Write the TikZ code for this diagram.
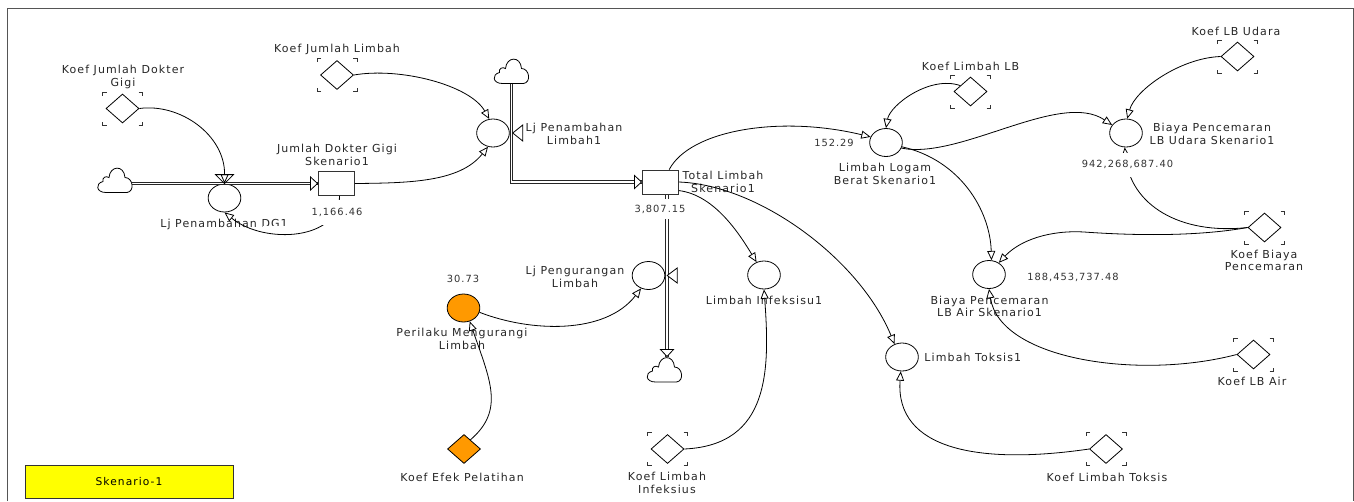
\documentclass[tikz,border=0pt]{standalone}
\usepackage{fontspec}
\usepackage{xcolor}
\usepackage{tikz}
\usetikzlibrary{arrows.meta,shapes.geometric,positioning}
\setmainfont[LetterSpace=10]{DejaVu Sans}
\definecolor{oranye}{HTML}{FF9900}
\definecolor{bingkai}{HTML}{555555}
\definecolor{kuning}{HTML}{FFFF00}

\begin{document}
\begin{tikzpicture}[x=0.75pt, y=-0.75pt, line width=0.6pt, font=\fontsize{8.25}{9.4}\selectfont]
        % Stijlen
        \tikzstyle{teks} = [align=center, inner sep=0pt, text=black!85]
        \tikzstyle{nilai} = [align=center, inner sep=1pt, fill=white, text=black!80, font=\fontsize{7.4}{9}\selectfont]
        \tikzstyle{laju} = [ellipse, draw=black, fill=white, inner sep=0pt, minimum width=24.5pt, minimum height=21pt]
        \tikzstyle{stok} = [rectangle, draw=black!80, fill=white, inner sep=0pt, minimum width=27pt, minimum height=18pt]
        \tikzstyle{koef} = [diamond, draw=black, fill=white, inner sep=0pt, minimum width=24.75pt, minimum height=21.75pt]
        \tikzstyle{awan} = [rectangle, inner sep=0pt, minimum width=25.5pt, minimum height=18.75pt]
        \tikzstyle{link} = [->, >={Triangle[open, length=7pt, width=6pt]}]
        \tikzstyle{aliran} = [line width=2.3pt, black!85, postaction={draw=white, line width=1pt}]
        \tikzstyle{ujung} = [->, >={Triangle[fill=white, length=6pt, width=11pt]}]
        \tikzstyle{katup} = [draw=black, fill=white]
        \tikzset{
            awanbentuk/.pic={
                \draw [fill=white] (-9,12) .. controls (-19,12) and (-20,3) .. (-12,1)
                    .. controls (-13,-3) and (-9,-5) .. (-6,-3)
                    .. controls (-5,-15) and (9,-16) .. (10,-3)
                    .. controls (18,-3) and (20,11) .. (12,12) -- cycle;
            },
            sikubentuk/.pic={
                \foreach \sx/\sy in {1/1,1/-1,-1/1,-1/-1}
                    \draw [black!80] ({\sx*16},{\sy*16.5}) -- ({\sx*20},{\sy*16.5}) -- ({\sx*20},{\sy*13});
            }
        }

        \useasboundingbox (0,0) rectangle (1354,501);
        \draw [bingkai] (7,501) -- (7,8) -- (1353,8) -- (1353,501);

        % Knopen plaatsen
        \node (kotakSkenario) [rectangle, draw=black!80, fill=kuning, minimum width=156pt, minimum height=24.75pt, inner sep=0pt, font=\fontsize{8}{9}\selectfont] at (129,481.5) {Skenario-1};

        \node (awanKiri) [awan] at (115,180.5) {};
        \node (awanAtas) [awan] at (511.5,71.5) {};
        \node (awanBawah) [awan] at (664.5,370) {};
        \node (stokDokter) [stok] at (336.5,183.5) {};
        \node (stokLimbah) [stok] at (660.5,182) {};
        \node (ljDokter) [laju] at (224.5,198) {};
        \node (ljLimbah) [laju] at (493,133) {};
        \node (ljKurang) [laju] at (648.5,275.5) {};
        \node (limbahLogam) [laju] at (886,142.5) {};
        \node (limbahInfeksi) [laju] at (764,275) {};
        \node (limbahToksis) [laju] at (902,357) {};
        \node (biayaUdara) [laju] at (1126,133) {};
        \node (biayaAir) [laju] at (989,274.5) {};
        \node (perilaku) [laju, fill=oranye] at (463.5,308) {};
        \node (koefDokter) [koef] at (122.5,108.5) {};
        \node (koefJumlah) [koef] at (337,75) {};
        \node (koefLB) [koef] at (970.5,91.5) {};
        \node (koefUdara) [koef] at (1237.5,56.5) {};
        \node (koefBiaya) [koef] at (1264.5,227.5) {};
        \node (koefAir) [koef] at (1253.5,354.5) {};
        \node (koefInfeksi) [koef] at (667.5,449) {};
        \node (koefToksis) [koef] at (1106,449) {};
        \node (koefPelatihan) [koef, fill=oranye] at (464,449) {};

        \foreach \k in {koefDokter,koefJumlah,koefLB,koefUdara,koefBiaya,koefAir,koefInfeksi,koefToksis}
            \pic at (\k) {sikubentuk};

        % Teksten
        \node (teksKoefDokter) [teks] at (123,77) {Koef Jumlah Dokter\\Gigi};
        \node (teksKoefJumlah) [teks] at (337,49) {Koef Jumlah Limbah};
        \node (teksStokDokter) [teks] at (337,155) {Jumlah Dokter Gigi\\Skenario1};
        \node (teksLjDokter) [teks] at (224,224) {Lj Penambahan DG1};
        \node (teksLjLimbah) [teks] at (574,134) {Lj Penambahan\\Limbah1};
        \node (teksStokLimbah) [teks] at (723,182) {Total Limbah\\Skenario1};
        \node (teksLjKurang) [teks] at (575,277) {Lj Pengurangan\\Limbah};
        \node (teksPerilaku) [teks] at (462,339) {Perilaku Mengurangi\\Limbah};
        \node (teksPelatihan) [teks] at (462,477) {Koef Efek Pelatihan};
        \node (teksKoefInfeksi) [teks] at (667,483) {Koef Limbah\\Infeksius};
        \node (teksInfeksi) [teks] at (764,300) {Limbah Infeksisu1};
        \node (teksToksis) [teks, right=4pt of limbahToksis] {Limbah Toksis1};
        \node (teksKoefToksis) [teks] at (1107,477) {Koef Limbah Toksis};
        \node (teksLogam) [teks] at (885,174) {Limbah Logam\\Berat Skenario1};
        \node (teksKoefLB) [teks] at (970.5,66) {Koef Limbah LB};
        \node (teksUdara) [teks] at (1212,134) {Biaya Pencemaran\\LB Udara Skenario1};
        \node (teksKoefUdara) [teks] at (1236,31) {Koef LB Udara};
        \node (teksKoefBiaya) [teks] at (1264,260.5) {Koef Biaya\\Pencemaran};
        \node (teksAir) [teks] at (989.5,306.5) {Biaya Pencemaran\\LB Air Skenario1};
        \node (teksKoefAir) [teks] at (1252,381) {Koef LB Air};
        \fill [white] (263,225.5) rectangle (292,232);

        % Aliran
        \coordinate (keluarLimbah) at (667,195);
        \draw [aliran] (awanKiri.east |- stokDokter.west) -- (stokDokter.west);
        \draw [aliran] (awanAtas.south) |- (stokLimbah.west);
        \draw [aliran] (keluarLimbah) -- (keluarLimbah |- awanBawah.north);
        \draw [ujung] ([xshift=-6pt]stokDokter.west) -- (stokDokter.west);
        \draw [ujung] ([xshift=-6pt]stokLimbah.west) -- (stokLimbah.west);
        \draw [ujung] ([yshift=6pt]keluarLimbah |- awanBawah.north) -- (keluarLimbah |- awanBawah.north);
        \pic at (awanKiri) {awanbentuk};
        \pic at (awanAtas) {awanbentuk};
        \pic at (awanBawah) {awanbentuk};
        \draw [katup] (ljDokter.north) -- ++(-9,-9) -- ++(18,0) -- cycle;
        \draw [katup] (ljLimbah.east) ++(3,0) -- ++(10,-8) -- ++(0,16) -- cycle;
        \draw [katup] (ljKurang.east) ++(2,0) -- ++(10,-7.5) -- ++(0,15) -- cycle;

        % Pijlen tekenen
        \draw [link] (koefDokter.east) .. controls (180,103) and (225,135) .. (ljDokter.north);
        \draw [link] (stokDokter.south) ++(3,0) .. controls (340,240) and (265,245) .. (ljDokter.south);
        \draw [link] (koefJumlah.east) .. controls (400,67) and (470,85) .. (ljLimbah.105);
        \draw [link] (stokDokter.east) .. controls (410,183) and (460,182) .. (ljLimbah.250);
        \draw [link] (stokLimbah.55) .. controls (690,130) and (780,115) .. (limbahLogam.160);
        \draw [link] (stokLimbah.-25) .. controls (715,195) and (740,235) .. (limbahInfeksi.120);
        \draw [link] (stokLimbah.east) .. controls (760,185) and (860,260) .. (limbahToksis.120);
        \draw [link] (koefLB.150) .. controls (930,75) and (890,105) .. (limbahLogam.north);
        \draw [link] (limbahLogam.-20) .. controls (960,160) and (1060,90) .. (biayaUdara.150);
        \draw [link] (limbahLogam.-15) .. controls (960,160) and (990,210) .. (biayaAir.80);
        \draw [link] (koefUdara.west) .. controls (1180,58) and (1135,90) .. (biayaUdara.85);
        \draw [link] (koefBiaya.west) .. controls (1180,235) and (1130,205) .. (biayaUdara.265);
        \draw [link] (koefBiaya.west) .. controls (1200,236) and (1140,236) .. (1084,232) .. controls (1050,230) and (1020,240) .. (biayaAir.50);
        \draw [link] (koefAir.west) .. controls (1140,380) and (1000,360) .. (biayaAir.south);
        \draw [link] (perilaku.-15) .. controls (530,332) and (605,335) .. (ljKurang.240);
        \draw [link] (koefPelatihan.55) .. controls (505,410) and (490,380) .. (perilaku.-65);
        \draw [link] (koefInfeksi.east) .. controls (770,445) and (770,370) .. (limbahInfeksi.south);
        \draw [link] (koefToksis.west) .. controls (980,465) and (895,450) .. (limbahToksis.265);

        % Nilai
        \node (nilaiDokter) [nilai, minimum height=18.5pt] at (337,212.5) {1,166.46};
        \node (nilaiLimbah) [nilai, minimum height=15pt] at (660,209) {3,807.15};
        \node (nilaiPerilaku) [nilai] at (463,279) {30.73};
        \node (nilaiLogam) [nilai] at (834,143) {152.29};
        \node (nilaiUdara) [nilai, minimum height=18pt] at (1127.5,164.5) {942,268,687.40};
        \node (nilaiAir) [nilai] at (1073,277) {188,453,737.48};
\end{tikzpicture}
\end{document}
